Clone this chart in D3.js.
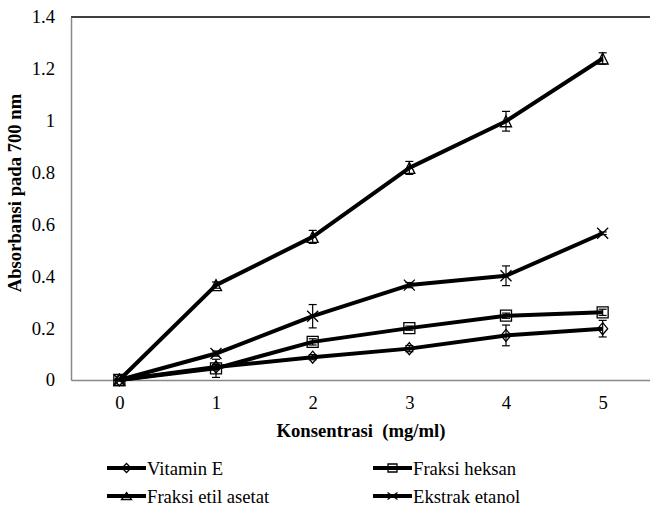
<!DOCTYPE html>
<html>
<head>
<meta charset="utf-8">
<script src="https://cdn.jsdelivr.net/npm/d3@7"></script>
<style>
  body { margin: 0; background: #fff; }
</style>
</head>
<body>
<div id="wrapper"></div>
<script>
// data
const concentrations = [0, 1, 2, 3, 4, 5];
const yTicks = [0, 0.2, 0.4, 0.6, 0.8, 1, 1.2, 1.4];
const seriesNames = ["Vitamin E", "Fraksi heksan", "Fraksi etil asetat", "Ekstrak etanol"];
const seriesSymbols = ["diamond", "square", "triangle", "cross"];
const vitaminE = [0, 0.050, 0.088, 0.121, 0.172, 0.198];
const vitaminEErr = [0.005, 0.010, 0.010, 0.012, 0.040, 0.032];
const fraksiHeksan = [0, 0.045, 0.147, 0.200, 0.248, 0.261];
const fraksiHeksanErr = [0.005, 0.035, 0.012, 0.008, 0.010, 0.012];
const fraksiEtilAsetat = [0, 0.366, 0.552, 0.818, 0.998, 1.240];
const fraksiEtilAsetatErr = [0.005, 0.012, 0.025, 0.025, 0.038, 0.022];
const ekstrakEtanol = [0, 0.102, 0.246, 0.366, 0.402, 0.566];
const ekstrakEtanolErr = [0.005, 0.010, 0.045, 0.010, 0.038, 0.005];

const seriesValues = [vitaminE, fraksiHeksan, fraksiEtilAsetat, ekstrakEtanol];
const seriesErrors = [vitaminEErr, fraksiHeksanErr, fraksiEtilAsetatErr, ekstrakEtanolErr];

const fontFamily = 'Liberation Serif';
const fontSize = 18.67; // 14pt

function draw() {
    // dimensions
    const dimensions = {
        width: 650,
        height: 509,
        margin: { top: 17, right: -1, bottom: 129, left: 71 },
    };
    dimensions.boundedWidth = dimensions.width - dimensions.margin.left - dimensions.margin.right;
    dimensions.boundedHeight = dimensions.height - dimensions.margin.top - dimensions.margin.bottom;

    const wrapper = d3.select('#wrapper')
        .append('svg')
        .attr('width', dimensions.width)
        .attr('height', dimensions.height)
        .attr('font-family', fontFamily);

    const bounds = wrapper.append('g')
        .attr('transform', `translate(${dimensions.margin.left},${dimensions.margin.top})`);

    // scales
    const xScale = d3.scalePoint()
        .domain(concentrations)
        .range([0, dimensions.boundedWidth])
        .padding(0.5);
    const yScale = d3.scaleLinear()
        .domain([0, 1.4])
        .range([dimensions.boundedHeight, 0]);

    // frame: top border black, axes grey
    bounds.append('line')
        .attr('x1', 0).attr('x2', dimensions.boundedWidth)
        .attr('y1', 0).attr('y2', 0)
        .attr('stroke', '#000').attr('stroke-width', 1.5);

    const yAxis = bounds.append('g')
        .call(d3.axisLeft(yScale).tickValues(yTicks).tickSize(0).tickPadding(16).tickFormat(d3.format('')))
        .attr('font-family', fontFamily).attr('font-size', fontSize);
    yAxis.select('.domain').attr('stroke', '#888').attr('stroke-width', 1.5);
    yAxis.selectAll('text').attr('fill', '#000');

    const xAxis = bounds.append('g')
        .attr('transform', `translate(0,${dimensions.boundedHeight})`)
        .call(d3.axisBottom(xScale).tickSize(0).tickPadding(16))
        .attr('font-family', fontFamily).attr('font-size', fontSize);
    xAxis.select('.domain').attr('stroke', '#888').attr('stroke-width', 1.5);
    xAxis.selectAll('text').attr('fill', '#000');

    // axis titles
    wrapper.append('text')
        .attr('font-size', fontSize).attr('font-weight', 'bold')
        .attr('x', dimensions.margin.left + dimensions.boundedWidth / 2)
        .attr('y', 437)
        .attr('text-anchor', 'middle')
        .style('white-space', 'pre')
        .text('Konsentrasi  (mg/ml)');
    wrapper.append('text')
        .attr('font-size', fontSize).attr('font-weight', 'bold')
        .attr('transform', `translate(21,193) rotate(-90)`)
        .attr('text-anchor', 'middle')
        .text('Absorbansi pada 700 nm');

    // markers (open, the line shows through them)
    function drawMarker(g, symbol, w, h) {
        const s = w / 2;
        const t = h / 2;
        let path;
        if (symbol === 'diamond') {
            path = `M0,${-t}L${s},0L0,${t}L${-s},0Z`;
        } else if (symbol === 'square') {
            path = `M${-s},${-t}H${s}V${t}H${-s}Z`;
        } else if (symbol === 'triangle') {
            path = `M0,${-t}L${s},${t}L${-s},${t}Z`;
        } else {
            path = `M${-s},${-t}L${s},${t}M${s},${-t}L${-s},${t}`;
        }
        g.append('path').attr('d', path)
            .attr('fill', 'none').attr('stroke', '#000').attr('stroke-width', 1.3);
    }

    const lineGenerator = d3.line()
        .x((d, i) => xScale(concentrations[i]))
        .y(d => yScale(d));

    seriesValues.forEach((values, si) => {
        const g = bounds.append('g').attr('class', 'series');
        g.append('path')
            .attr('d', lineGenerator(values))
            .attr('fill', 'none')
            .attr('stroke', '#000')
            .attr('stroke-width', 4)
            .attr('stroke-linejoin', 'round');

        const errs = seriesErrors[si];
        values.forEach((v, i) => {
            const x = xScale(concentrations[i]);
            const y1 = yScale(v + errs[i]);
            const y2 = yScale(Math.max(0, v - errs[i]));
            const eg = g.append('g').attr('stroke', '#000').attr('stroke-width', 1.2);
            eg.append('line').attr('x1', x).attr('x2', x).attr('y1', y1).attr('y2', y2);
            eg.append('line').attr('x1', x - 4).attr('x2', x + 4).attr('y1', y1).attr('y2', y1);
            eg.append('line').attr('x1', x - 4).attr('x2', x + 4).attr('y1', y2).attr('y2', y2);
        });

        values.forEach((v, i) => {
            const mg = g.append('g')
                .attr('transform', `translate(${xScale(concentrations[i])},${yScale(v)})`);
            const [w, h] = seriesSymbols[si] === 'diamond' ? [10, 12] : [11, 11];
            drawMarker(mg, seriesSymbols[si], w, h);
        });
    });

    // legend
    const legendPositions = [[107, 468], [373, 468], [107, 496], [373, 496]];
    const legendMarkerSizes = [[9, 9], [9, 8], [10, 7], [10, 7]];
    seriesNames.forEach((name, i) => {
        const [lx, ly] = legendPositions[i];
        const lg = wrapper.append('g').attr('transform', `translate(${lx},${ly})`);
        lg.append('line')
            .attr('x1', 0).attr('x2', 39).attr('y1', 0).attr('y2', 0)
            .attr('stroke', '#000').attr('stroke-width', 4);
        const mg = lg.append('g').attr('transform', 'translate(19.5,0)');
        drawMarker(mg, seriesSymbols[i], legendMarkerSizes[i][0], legendMarkerSizes[i][1]);
        lg.append('text')
            .attr('font-size', fontSize)
            .attr('x', 40)
            .attr('y', 6.5)
            .text(name);
    });
}

draw();
</script>
</body>
</html>
